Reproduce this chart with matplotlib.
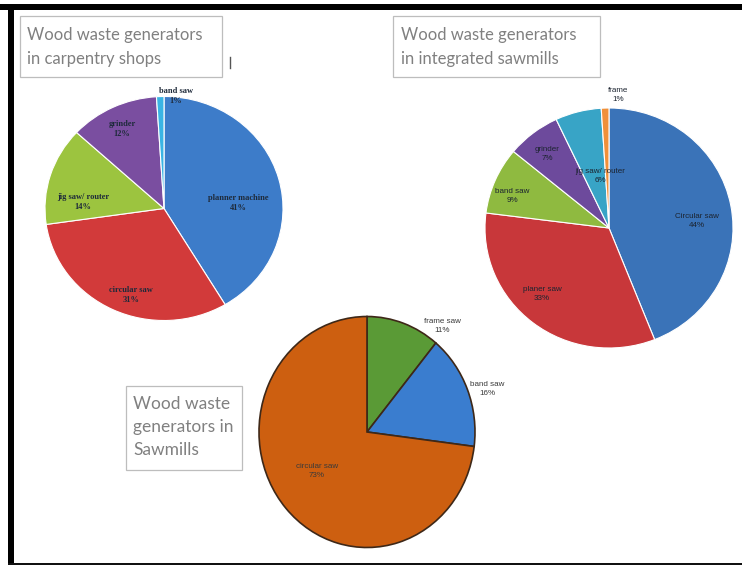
import matplotlib
matplotlib.use("Agg")
import matplotlib.pyplot as plt
from matplotlib.patches import Rectangle

# --- data -------------------------------------------------------------
carp_labels = ["planner machine", "circular saw", "jig saw/ router", "grinder", "band saw"]
carp_values = [41, 31, 14, 12, 1]

integ_labels = ["Circular saw", "planer saw", "band saw", "grinder", "jig saw/ router", "frame"]
integ_values = [44, 33, 9, 7, 6, 1]

saw_labels = ["frame saw", "band saw", "circular saw"]
saw_values = [11, 16, 73]

titles = ["Wood waste generators\nin carpentry shops",
          "Wood waste generators\nin integrated sawmills",
          "Wood waste\ngenerators in\nSawmills"]

# --- styling ----------------------------------------------------------
carp_colors = ["#3d7cc9", "#d23a3a", "#9cc43f", "#7a4ea0", "#3ab4e4"]
integ_colors = ["#3a73b8", "#c8373a", "#8fba40", "#6d4a9c", "#38a4c6", "#f0903a"]
saw_colors = ["#5a9a36", "#3a7dcf", "#cd5f10"]

W, H = 742, 565
fig = plt.figure(figsize=(W / 100, H / 100), dpi=100)
fig.patch.set_facecolor("white")


def pie_axes(cx, cy, rx, ry, pad=1.04):
    """Axes in pixel units, centred on (cx, cy), holding a unit pie."""
    w, h = 2 * rx * pad, 2 * ry * pad
    ax = fig.add_axes([(cx - w / 2) / W, 1 - (cy + h / 2) / H, w / W, h / H])
    return ax


def draw_pie(ax, values, colors, edge, lw):
    ax.pie(values, colors=colors, startangle=90, counterclock=False,
           wedgeprops=dict(edgecolor=edge, linewidth=lw))
    ax.set_aspect("auto")
    ax.set_xlim(-1.04, 1.04)
    ax.set_ylim(-1.04, 1.04)
    ax.axis("off")


ax1 = pie_axes(164, 208.5, 119, 112)
draw_pie(ax1, carp_values, carp_colors, "white", 0.8)

ax2 = pie_axes(609, 228, 124, 120)
draw_pie(ax2, integ_values, integ_colors, "white", 0.8)

ax3 = pie_axes(367, 432, 108, 115.5)
draw_pie(ax3, saw_values, saw_colors, "#3e2818", 1.2)

# --- overlay in pixel coordinates --------------------------------------
ov = fig.add_axes([0, 0, 1, 1])
ov.set_xlim(0, W)
ov.set_ylim(H, 0)
ov.axis("off")
ov.patch.set_alpha(0)
ov.set_zorder(10)

# frame bars
ov.add_patch(Rectangle((0, 4), W, 6, facecolor="black", edgecolor="none"))
ov.add_patch(Rectangle((8, 4), 6, H, facecolor="black", edgecolor="none"))
ov.add_patch(Rectangle((8, 562.5), W, 3, facecolor="#111111", edgecolor="none"))

# title boxes
box_style = dict(facecolor="white", edgecolor="#bdbdbd", linewidth=0.9)
ov.add_patch(Rectangle((20, 16), 202, 61, **box_style))
ov.add_patch(Rectangle((393, 16), 207, 61, **box_style))
ov.add_patch(Rectangle((126, 386), 116, 84, **box_style))

title_font = dict(family="Lato", color="#808080", va="center", ha="left")
ov.text(27, 47, titles[0], fontsize=12, linespacing=1.55, **title_font)
ov.text(401, 47, titles[1], fontsize=12, linespacing=1.55, **title_font)
ov.text(133, 427, titles[2], fontsize=12.5, linespacing=1.55, **title_font)
ov.plot([230, 230], [57, 68], color="#555555", lw=1)

# slice labels
carp_pos = [(238, 203), (131, 295), (83, 202), (122, 129), (176, 96)]
for name, v, (x, y) in zip(carp_labels, carp_values, carp_pos):
    ov.text(x, y, f"{name}\n{v}%", family="Liberation Serif", weight="bold",
            fontsize=6, color="#1e2a3a", ha="center", va="center", linespacing=1.2)

integ_pos = [(697, 221), (542, 294), (512, 196), (547, 154), (600, 176), (618, 95)]
for name, v, (x, y) in zip(integ_labels, integ_values, integ_pos):
    ov.text(x, y, f"{name}\n{v}%", family="Liberation Sans", fontsize=5.8,
            color="#1c2430", ha="center", va="center", linespacing=1.3)

saw_pos = [(442, 326), (487, 389), (317, 471)]
for name, v, (x, y) in zip(saw_labels, saw_values, saw_pos):
    ov.text(x, y, f"{name}\n{v}%", family="Liberation Sans", fontsize=5.8,
            color="#3a3a3a", ha="center", va="center", linespacing=1.3)

fig.savefig("out.png", dpi=100)
